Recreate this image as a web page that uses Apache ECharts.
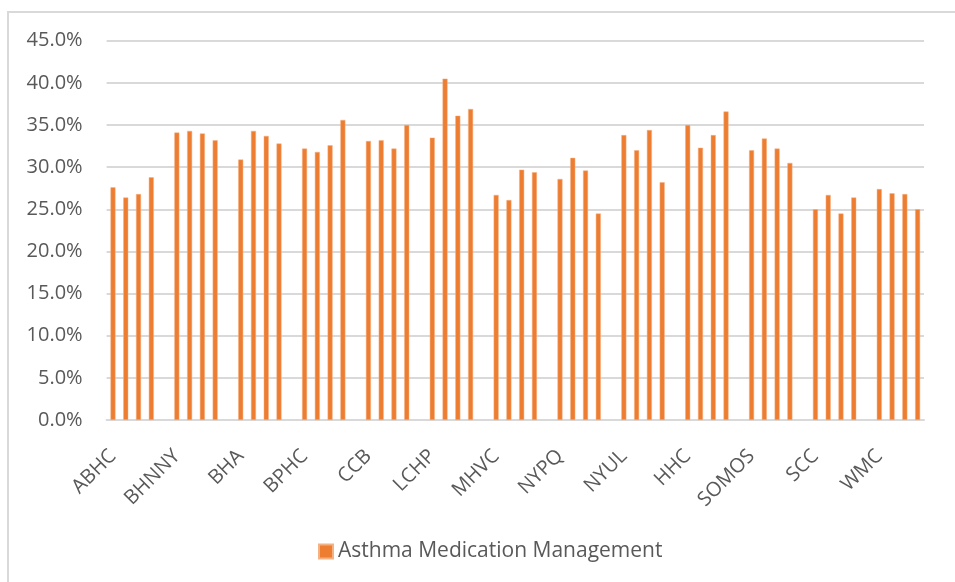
<!DOCTYPE html>
<html>
<head>
<meta charset="utf-8">
<script src="https://cdn.jsdelivr.net/npm/echarts@6/dist/echarts.min.js"></script>
<style>
html,body{margin:0;padding:0;background:#fff;}
#frame{position:absolute;left:7px;top:11px;width:960px;height:600px;border-left:2px solid #d9d9d9;border-top:2px solid #d9d9d9;}
#chart{position:absolute;left:0;top:0;width:955px;height:582px;}
</style>
</head>
<body>
<div id="frame"></div>
<div id="chart"></div>
<script>
const groups = ['ABHC','BHNNY','BHA','BPHC','CCB','LCHP','MHVC','NYPQ','NYUL','HHC','SOMOS','SCC','WMC'];
const ABHC  = [27.6, 26.4, 26.8, 28.8];
const BHNNY = [34.1, 34.3, 34.0, 33.2];
const BHA   = [30.9, 34.3, 33.7, 32.8];
const BPHC  = [32.2, 31.8, 32.6, 35.6];
const CCB   = [33.1, 33.2, 32.2, 35.0];
const LCHP  = [33.5, 40.5, 36.1, 36.9];
const MHVC  = [26.7, 26.1, 29.7, 29.4];
const NYPQ  = [28.6, 31.1, 29.6, 24.5];
const NYUL  = [33.8, 32.0, 34.4, 28.2];
const HHC   = [35.0, 32.3, 33.8, 36.6];
const SOMOS = [32.0, 33.4, 32.2, 30.5];
const SCC   = [25.0, 26.7, 24.5, 26.4];
const WMC   = [27.4, 26.9, 26.8, 25.0];
const groupValues = [ABHC, BHNNY, BHA, BPHC, CCB, LCHP, MHVC, NYPQ, NYUL, HHC, SOMOS, SCC, WMC];
const yTicks = [0, 5, 10, 15, 20, 25, 30, 35, 40, 45];
const seriesName = 'Asthma Medication Management';

// Build slot categories: 4 bars per group, one empty slot between groups
const categories = [];
const labels = [];
const data = [];
groups.forEach((g, gi) => {
  groupValues[gi].forEach((v, k) => {
    categories.push(g + '_' + k);
    labels.push(k === 0 ? g : '');
    data.push(v);
  });
  if (gi < groups.length - 1) {
    categories.push(g + '_gap');
    labels.push('');
    data.push(null);
  }
});

const FONT = 'Open Sans';
const chart = echarts.init(document.getElementById('chart'), null, {renderer: 'canvas'});
chart.setOption({
  animation: false,
  backgroundColor: 'transparent',
  textStyle: {fontFamily: FONT},
  grid: {left: 106.6, right: 31, top: 40.7, bottom: 162, containLabel: false},
  legend: {
    data: [seriesName],
    bottom: 20,
    left: 318,
    icon: 'rect',
    itemWidth: 14,
    itemHeight: 14,
    itemGap: 10,
    padding: 0,
    textStyle: {color: '#595959', fontSize: 21, fontFamily: FONT}
  },
  xAxis: {
    type: 'category',
    data: categories,
    boundaryGap: true,
    axisLine: {lineStyle: {color: '#d9d9d9', width: 2}},
    axisTick: {show: false},
    axisLabel: {
      interval: 0,
      rotate: 45,
      margin: 33,
      color: '#595959',
      fontSize: 20,
      fontFamily: FONT,
      formatter: (v, i) => labels[i]
    }
  },
  yAxis: {
    type: 'value',
    min: yTicks[0],
    max: yTicks[yTicks.length - 1],
    interval: yTicks[1] - yTicks[0],
    axisLine: {show: false},
    axisTick: {show: false},
    splitLine: {lineStyle: {color: '#d9d9d9', width: 2}},
    axisLabel: {
      margin: 24,
      color: '#595959',
      fontSize: 20,
      fontFamily: FONT,
      formatter: v => v.toFixed(1) + '%'
    }
  },
  series: [{
    name: seriesName,
    type: 'bar',
    data: data,
    barWidth: 5,
    itemStyle: {color: '#ED7D31', borderColor: '#F4B183', borderWidth: 0.5}
  }]
});
</script>
</body>
</html>
